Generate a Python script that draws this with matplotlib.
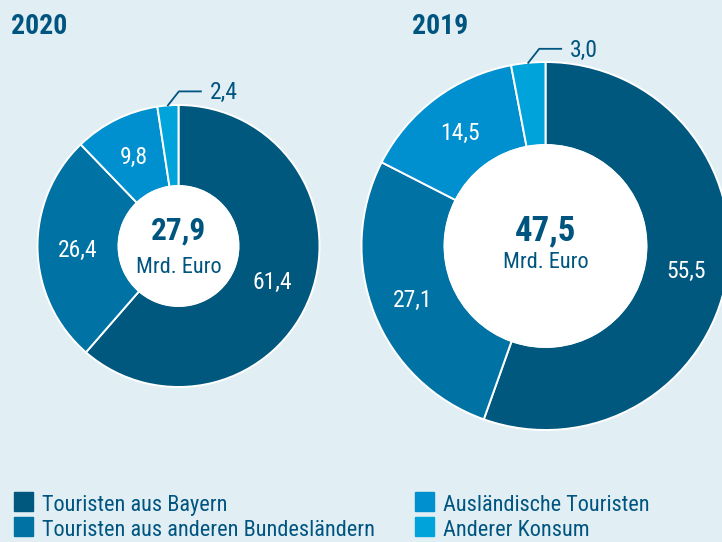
import numpy as np
import matplotlib.pyplot as plt

plt.rcParams['font.family'] = ['Roboto Condensed', 'Liberation Sans Narrow', 'DejaVu Sans']

# data
years = ["2020", "2019"]
categories = ["Touristen aus Bayern", "Touristen aus anderen Bundesländern",
              "Ausländische Touristen", "Anderer Konsum"]
values_2020 = [61.4, 26.4, 9.8, 2.4]
values_2019 = [55.5, 27.1, 14.5, 3.0]
totals = ["27,9", "47,5"]
colors = ["#00587f", "#0072a3", "#008fcf", "#00a3da"]

bg = "#e1eef4"
dark = "#005580"
H = 542

fig = plt.figure(figsize=(7.22, 5.42), dpi=100, facecolor=bg)
ax = fig.add_axes([0, 0, 1, 1])
ax.set_facecolor(bg)

def py(y):
    return H - y

def donut(vals, cx, cy, r_out, r_in, total, tsize, unit_y, title, title_x):
    wedges, _ = ax.pie(vals, colors=colors, startangle=90, counterclock=False,
                       center=(cx, py(cy)), radius=r_out,
                       wedgeprops=dict(width=r_out - r_in, edgecolor='white', linewidth=1.4))
    rmid = (r_out + r_in) / 2
    for i, (w, v) in enumerate(zip(wedges, vals)):
        a = np.deg2rad((w.theta1 + w.theta2) / 2)
        lab = f"{v:.1f}".replace(".", ",")
        if i == 3:
            # kleines Segment: Beschriftung aussen mit Linie
            x0 = cx + r_out * np.cos(a)
            y0 = py(cy) + r_out * np.sin(a)
            ax.plot([x0, x0 + 11, x0 + 33], [y0, y0 + 14, y0 + 14], color=dark, lw=1.3)
            ax.text(x0 + 42, y0 + 14 - 8, lab, color=dark, fontsize=17,
                    ha='left', va='baseline')
        else:
            ax.text(cx + rmid * np.cos(a), py(cy) + rmid * np.sin(a) - 8, lab,
                    color='white', fontsize=17, ha='center', va='baseline')
    ax.add_patch(plt.Circle((cx, py(cy)), r_in, color='white', zorder=3))
    ax.text(cx, py(240), total, color=dark, fontsize=tsize, fontweight='bold',
            ha='center', va='baseline', zorder=4)
    ax.text(cx, py(unit_y), "Mrd. Euro", color=dark, fontsize=16,
            ha='center', va='baseline', zorder=4)
    ax.text(title_x, py(34), title, color=dark, fontsize=20, fontweight='bold',
            ha='left', va='baseline')

donut(values_2020, 178.5, 246, 141, 60, totals[0], 22.5, 273, years[0], 11)
donut(values_2019, 545.5, 246, 184, 101, totals[1], 25, 268, years[1], 412)

# Legende
leg_pos = [(14, 511), (14, 536), (415, 511), (415, 536)]
for (lx, ly), c, name in zip(leg_pos, colors, categories):
    ax.add_patch(plt.Rectangle((lx, py(ly)), 19, 19, color=c))
    ax.text(lx + 28, py(ly), name, color=dark, fontsize=16, ha='left', va='baseline')

ax.set_xlim(0, 722)
ax.set_ylim(0, H)
ax.set_aspect('equal')
ax.axis('off')

fig.savefig("out.png", dpi=100, facecolor=bg)
